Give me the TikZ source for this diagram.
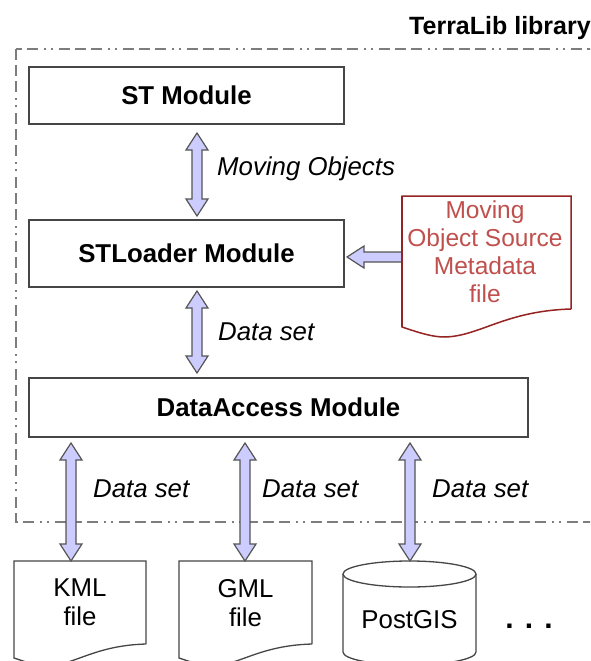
\documentclass[tikz,border=0pt]{standalone}
\usepackage{fontspec}
\setmainfont{Liberation Sans}
\usetikzlibrary{calc}
\definecolor{lav}{RGB}{204,204,255}
\definecolor{boxline}{RGB}{70,70,70}
\definecolor{arrowline}{RGB}{85,85,85}
\definecolor{frameline}{RGB}{125,125,125}
\definecolor{mdline}{RGB}{150,35,35}
\definecolor{mdtext}{RGB}{192,80,77}
\newcommand\fatV[2]{%
  \draw[fatarrow] let \p1=(#1), \p2=(#2) in
    (\x1,\y1) -- (\x1+11pt,\y1-17pt) -- (\x1+5pt,\y1-17pt) -- (\x1+5pt,\y2+17pt)
    -- (\x1+11pt,\y2+17pt) -- (\x1,\y2) -- (\x1-11pt,\y2+17pt) -- (\x1-5pt,\y2+17pt)
    -- (\x1-5pt,\y1-17pt) -- (\x1-11pt,\y1-17pt) -- cycle;}
\tikzset{
  modbox/.style={draw=boxline, line width=1.5pt, fill=white, inner sep=0pt,
    font=\fontsize{25.8}{29}\selectfont\bfseries},
  fatarrow/.style={draw=arrowline, fill=lav, line width=1.2pt, line join=miter},
  lbl/.style={anchor=base west, inner sep=0pt, font=\fontsize{25.8}{29}\selectfont\itshape},
  frameln/.style={draw=frameline, line width=1.5pt,
    dash pattern=on 11pt off 5pt on 11pt off 5pt on 11pt off 6pt on 2pt off 5pt on 2pt off 6pt},
  docline/.style={draw=boxline, line width=1.3pt, fill=white},
  doctext/.style={anchor=north, inner sep=0pt, align=center, font=\fontsize{25.8}{29}\selectfont},
  mdshape/.style={draw=mdline, line width=1.5pt, fill=white},
  mdlbl/.style={anchor=north, inner sep=0pt, align=center, text=mdtext,
    font=\fontsize{24.5}{28}\selectfont},
}
\begin{document}
\begin{tikzpicture}[x=1pt, y=-1pt]
\useasboundingbox (0,0) rectangle (590,661);
\clip (0,0) rectangle (590,661);
\fill[white] (0,0) rectangle (590,661);

% frame and title
\draw[frameln] (16,49) rectangle (610,522);
\node[anchor=base west, inner sep=0pt, font=\fontsize{25}{28}\selectfont\bfseries] (title) at (409,35) {TerraLib library};

% modules
\node[modbox, minimum width=315pt, minimum height=57pt] (st) at (186.5,95.5) {ST Module};
\node[modbox, minimum width=315pt, minimum height=67pt] (stl) at (186.5,253.5) {STLoader Module};
\node[modbox, minimum width=499pt, minimum height=59pt] (da) at (278.5,407.5) {DataAccess Module};

% metadata document
\draw[mdshape] (571,309) -- (571,196) -- (402,196) -- (402,327)
  .. controls (420,333) and (432,337) .. (445,337)
  .. controls (480,336) and (505,311) .. (571,309);
\node[mdlbl] (meta) at (485,201) {Moving\\Object Source\\Metadata\\file};

% bottom documents
\draw[docline] (146,644) -- (146,561) -- (14,561) -- (14,658)
  .. controls (28,662.7) and (37.4,665.8) .. (47.5,665.8)
  .. controls (75,665) and (94,645.5) .. (146,644);
\node[doctext] (kml) at (80,579) {KML\\file};
\draw[docline] (312,644) -- (312,561) -- (179,561) -- (179,658)
  .. controls (193,662.7) and (202.4,665.8) .. (212.5,665.8)
  .. controls (240,665) and (259,645.5) .. (312,644);
\node[doctext] (gml) at (245.5,579) {GML\\file};
% cylinder
\draw[docline] (343,574) -- (343,652) arc[start angle=180, end angle=360, x radius=66.5pt, y radius=13pt] -- (476,574);
\draw[docline] (409.5,574) ellipse [x radius=66.5pt, y radius=13pt];
\node[anchor=base, inner sep=0pt, font=\fontsize{25.8}{29}\selectfont] (pg) at (409.5,628) {PostGIS};
\node[anchor=base, inner sep=0pt, font=\fontsize{30}{34}\selectfont\bfseries] (dots) at (529,628) {. . .};

% arrow end points
\coordinate (a1t) at (197,133);
\coordinate (a1b) at (197,216);
\coordinate (a2t) at (197,291);
\coordinate (a2b) at (197,373);
\coordinate (b1t) at (71,443);
\coordinate (b1b) at (71,561);
\coordinate (b2t) at (245,443);
\coordinate (b2b) at (245,561);
\coordinate (b3t) at (410,443);
\coordinate (b3b) at (410,561);
\coordinate (htip) at (347,257);
\coordinate (htail) at (402,257);

\fatV{a1t}{a1b}
\fatV{a2t}{a2b}
\fatV{b1t}{b1b}
\fatV{b2t}{b2b}
\fatV{b3t}{b3b}
\draw[fatarrow] let \p1=(htip), \p2=(htail) in
  (\x1,\y1) -- (\x1+17pt,\y1+11pt) -- (\x1+17pt,\y1+5pt) -- (\x2,\y1+5pt)
  -- (\x2,\y1-5pt) -- (\x1+17pt,\y1-5pt) -- (\x1+17pt,\y1-11pt) -- cycle;
% redraw doc edge over arrow tail
\draw[draw=mdline, line width=1.5pt] (402,196) -- (402,327);

% labels
\node[lbl] (lmo) at (217,175) {Moving Objects};
\node[lbl] (lds) at (218,340) {Data set};
\node[lbl] (l1) at (93,497) {Data set};
\node[lbl] (l2) at (262,497) {Data set};
\node[lbl] (l3) at (432,497) {Data set};
\end{tikzpicture}
\end{document}
